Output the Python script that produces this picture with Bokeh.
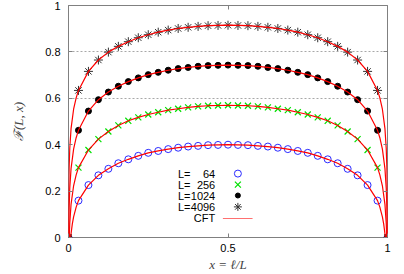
from bokeh.plotting import figure
from bokeh.models import Range1d, LinearAxis, FixedTicker, Label
from bokeh.embed import file_html
from bokeh.resources import INLINE
import numpy as np

# ---- data ----
n_sites = 32  # markers at x = k/32
F_64 = [0, .159, .226, .268, .296, .320, .337, .352, .365, .373, .381, .387, .392, .395, .398, .399, .400,
        .399, .398, .395, .392, .387, .381, .373, .365, .352, .337, .320, .296, .268, .226, .159, 0]
F_256 = [0, .301, .377, .424, .457, .483, .503, .518, .530, .540, .549, .555, .561, .565, .568, .569, .570,
         .569, .568, .565, .561, .555, .549, .540, .530, .518, .503, .483, .457, .424, .377, .301, 0]
F_1024 = [0, .462, .545, .594, .627, .652, .672, .688, .702, .712, .721, .728, .733, .738, .741, .742, .743,
          .742, .741, .738, .733, .728, .721, .712, .702, .688, .672, .652, .627, .594, .545, .462, 0]
F_4096 = [0, .634, .716, .765, .799, .824, .844, .861, .874, .885, .894, .901, .906, .910, .913, .914, .915,
          .914, .913, .910, .906, .901, .894, .885, .874, .861, .844, .824, .799, .765, .716, .634, 0]

# CFT curve near the edge (left side; the curve is symmetric about x = 1/2)
cft_edge_x_64 = [0.0068, 0.008, 0.012, 0.016, 0.024]
cft_edge_y_64 = [0.0, 0.017, 0.059, 0.089, 0.131]
cft_edge_x_256 = [0.0023, 0.004, 0.008, 0.016, 0.024]
cft_edge_y_256 = [0.0, 0.062, 0.143, 0.223, 0.270]
cft_edge_x_1024 = [0.0007, 0.001, 0.002, 0.004, 0.008, 0.016, 0.024]
cft_edge_y_1024 = [0.0, 0.046, 0.130, 0.213, 0.297, 0.381, 0.430]
cft_edge_x_4096 = [0.0002, 0.0005, 0.001, 0.002, 0.004, 0.008, 0.016, 0.024]
cft_edge_y_4096 = [0.0, 0.134, 0.218, 0.302, 0.385, 0.469, 0.553, 0.602]

labels_L = ["64", "256", "1024", "4096"]
x_ticks = [0, 0.5, 1]
y_ticks = [0, 0.2, 0.4, 0.6, 0.8, 1]
grid_ticks = [0.6, 0.8]

xs = np.arange(n_sites + 1) / n_sites


def cft_curve(ex, ey, data):
    ex = np.array(ex)
    ey = np.array(ey)
    inner_x = xs[1:-1]
    inner_y = np.array(data[1:-1])
    cx = np.concatenate([ex, inner_x, (1 - ex)[::-1]])
    cy = np.concatenate([ey, inner_y, ey[::-1]])
    return cx, cy


FONT = "Liberation Sans"
GRAY = "#808080"

p = figure(width=404, height=274, x_range=Range1d(0, 1), y_range=Range1d(0, 1),
           output_backend="svg", toolbar_location=None,
           min_border_left=68, min_border_right=17, min_border_top=5, min_border_bottom=37)
p.background_fill_color = "white"
p.border_fill_color = "white"
p.outline_line_color = GRAY
p.outline_line_width = 1

for ax, ticks, over in ((p.xaxis[0], x_ticks, {0: "0", 0.5: "0.5", 1: "1"}),
                        (p.yaxis[0], y_ticks, {0: "0", 1: "1"})):
    ax.ticker = FixedTicker(ticks=ticks)
    ax.major_label_overrides = over
    ax.major_label_text_font = FONT
    ax.major_label_text_font_size = "11px"
    ax.major_label_text_color = "black"
    ax.axis_line_color = None
    ax.major_tick_in = 4
    ax.major_tick_out = 0
    ax.major_tick_line_color = GRAY
    ax.minor_tick_line_color = None

p.yaxis.major_label_standoff = 8
p.xaxis.major_label_standoff = 6

p.xaxis.axis_label = "x = ℓ/L"
p.xaxis.axis_label_text_font = "Liberation Serif"
p.xaxis.axis_label_text_font_style = "italic"
p.xaxis.axis_label_text_font_size = "13px"
p.xaxis.axis_label_standoff = 2
p.yaxis.axis_label = "ℱ(L, x)"
p.yaxis.axis_label_text_font = "Liberation Serif"
p.yaxis.axis_label_text_font_style = "italic"
p.yaxis.axis_label_text_font_size = "13px"
p.yaxis.axis_label_standoff = 16

# mirrored ticks (right / top), no labels
for side, ticks in (("right", y_ticks), ("above", x_ticks)):
    a = LinearAxis(ticker=FixedTicker(ticks=ticks), axis_line_color=None,
                   major_tick_in=4, major_tick_out=0, major_tick_line_color=GRAY,
                   minor_tick_line_color=None, major_label_text_font_size="1px",
                   major_label_overrides={t: "" for t in ticks},
                   major_label_standoff=0)
    p.add_layout(a, side)

p.xgrid.visible = False
p.ygrid.ticker = FixedTicker(ticks=grid_ticks)
p.ygrid.grid_line_color = "#a8a8a8"
p.ygrid.grid_line_dash = "2 2"
p.ygrid.grid_line_width = 1

# markers
p.scatter(xs, F_64, marker="circle", size=7, fill_color=None, line_color="#2a2aff", line_width=1)
p.scatter(xs, F_256, marker="x", size=8.5, line_color="#00e000", line_width=1.2)
p.scatter(xs, F_1024, marker="circle", size=6, fill_color="black", line_color="black")
p.scatter(xs, F_4096, marker="asterisk", size=9, line_color="#303030", line_width=1)

# CFT curves
for ex, ey, d in ((cft_edge_x_64, cft_edge_y_64, F_64), (cft_edge_x_256, cft_edge_y_256, F_256),
                  (cft_edge_x_1024, cft_edge_y_1024, F_1024), (cft_edge_x_4096, cft_edge_y_4096, F_4096)):
    cx, cy = cft_curve(ex, ey, d)
    p.line(cx, cy, line_color="red", line_width=1.2)

# legend (gnuplot style: text right, sample left)
leg_prefix_x = 0.343
leg_num_x = 0.46
leg_sample_x = 0.531
leg_line_x0, leg_line_x1 = 0.484, 0.577
leg_rows = [0.2755, 0.228, 0.181, 0.132, 0.082]
for row_y, lab in zip(leg_rows[:4], labels_L):
    p.add_layout(Label(x=leg_prefix_x, y=row_y, text="L=", text_align="left", text_baseline="middle",
                       text_font=FONT, text_font_size="11px", text_color="black"))
    p.add_layout(Label(x=leg_num_x, y=row_y, text=lab, text_align="right", text_baseline="middle",
                       text_font=FONT, text_font_size="11px", text_color="black"))
p.add_layout(Label(x=leg_num_x, y=leg_rows[4], text="CFT", text_align="right", text_baseline="middle",
                   text_font=FONT, text_font_size="11px", text_color="black"))
p.scatter([leg_sample_x], [leg_rows[0]], marker="circle", size=7, fill_color=None, line_color="#2a2aff")
p.scatter([leg_sample_x], [leg_rows[1]], marker="x", size=8.5, line_color="#00e000", line_width=1.2)
p.scatter([leg_sample_x], [leg_rows[2]], marker="circle", size=5, fill_color="black", line_color="black")
p.scatter([leg_sample_x], [leg_rows[3]], marker="asterisk", size=8, line_color="#303030")
p.line([leg_line_x0, leg_line_x1], [leg_rows[4], leg_rows[4]], line_color="#ff7070", line_width=1.2)

open("out.html", "w").write(file_html(p, INLINE))
